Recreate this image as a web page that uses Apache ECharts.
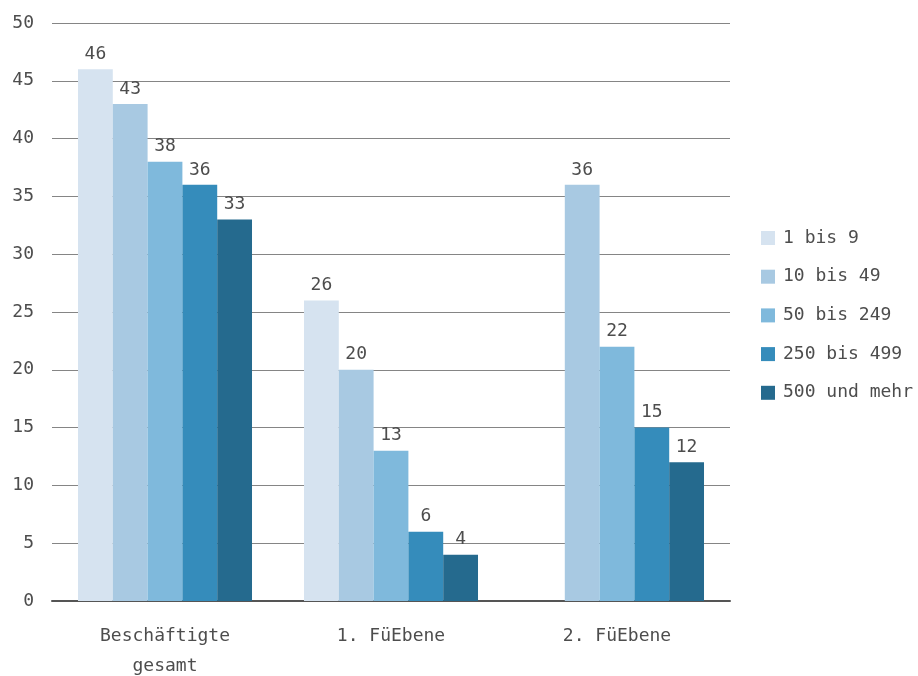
<!DOCTYPE html>
<html>
<head>
<meta charset="utf-8">
<script src="https://cdn.jsdelivr.net/npm/echarts@6/dist/echarts.min.js"></script>
<style>
  html, body { margin: 0; padding: 0; background: #fff; }
  #chart { width: 918px; height: 676px; }
</style>
</head>
<body>
<div id="chart"></div>
<script>
// Kategorien und Werte (Anteile in %)
const categories = ['Beschäftigte\ngesamt', '1. FüEbene', '2. FüEbene'];
const seriesNames = ['1 bis 9', '10 bis 49', '50 bis 249', '250 bis 499', '500 und mehr'];
const values1bis9 = [46, 26, '-'];
const values10bis49 = [43, 20, 36];
const values50bis249 = [38, 13, 22];
const values250bis499 = [36, 6, 15];
const values500plus = [33, 4, 12];
const yTicks = { min: 0, max: 50, interval: 5 };

const colors = ['#d6e3f0', '#a8c9e2', '#7fb9dc', '#358cbb', '#256a8e'];
const allValues = [values1bis9, values10bis49, values50bis249, values250bis499, values500plus];
const fontFamily = '"DejaVu Sans Mono", monospace';
const textColor = '#4d4d4d';

const chart = echarts.init(document.getElementById('chart'));
chart.setOption({
  animation: false,
  textStyle: { fontFamily: fontFamily },
  grid: { left: 52, right: 188, top: 23, bottom: 75, containLabel: false, outerBoundsMode: 'none' },
  legend: {
    orient: 'vertical',
    left: 761,
    top: 229,
    padding: 0,
    itemWidth: 14,
    itemHeight: 14,
    itemGap: 20.7,
    icon: 'rect',
    textStyle: { fontFamily: fontFamily, fontSize: 18, color: textColor, padding: [0, 0, 0, 3] },
    data: seriesNames
  },
  xAxis: {
    type: 'category',
    data: categories,
    axisLine: { lineStyle: { color: '#555', width: 2 } },
    axisTick: { show: false },
    axisLabel: { fontFamily: fontFamily, fontSize: 18, color: textColor, margin: 20, lineHeight: 30, interval: 0 }
  },
  yAxis: {
    type: 'value',
    min: yTicks.min,
    max: yTicks.max,
    interval: yTicks.interval,
    axisLine: { show: false },
    axisTick: { show: false },
    axisLabel: { fontFamily: fontFamily, fontSize: 18, color: textColor, margin: 18 },
    splitLine: { lineStyle: { color: '#858585', width: 1 } }
  },
  series: seriesNames.map((name, i) => ({
    name: name,
    type: 'bar',
    data: allValues[i],
    barGap: '0%',
    barCategoryGap: '23%',
    itemStyle: { color: colors[i] },
    label: {
      show: true,
      position: 'top',
      distance: 6,
      fontFamily: fontFamily,
      fontSize: 18,
      color: textColor
    }
  }))
});
</script>
</body>
</html>
